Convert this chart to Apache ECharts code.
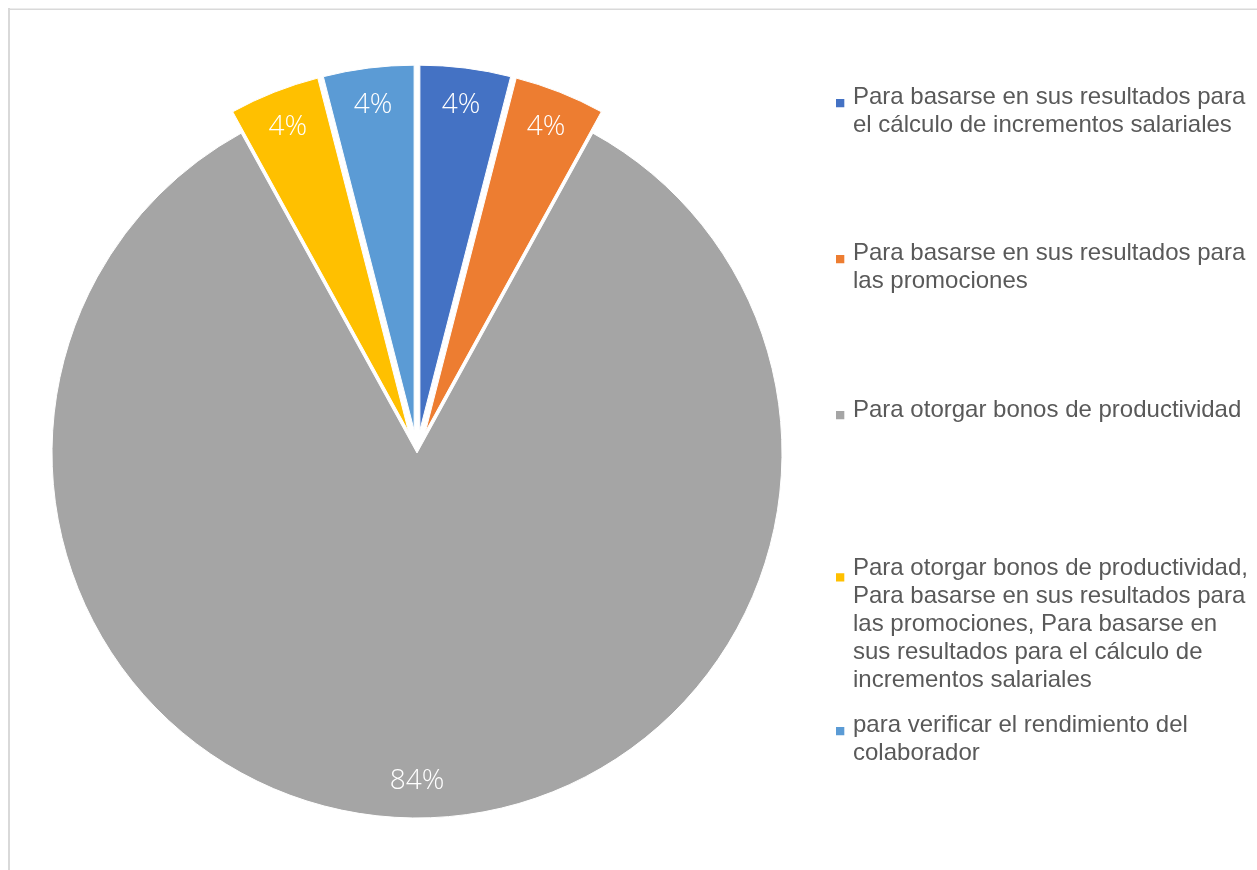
<!DOCTYPE html>
<html>
<head>
<meta charset="utf-8">
<title>Uso de los resultados de la evaluación</title>
<script src="https://cdn.jsdelivr.net/npm/echarts@6/dist/echarts.min.js"></script>
<style>
  html, body { margin: 0; padding: 0; background: #fff; }
  #chart { width: 1257px; height: 870px; }
</style>
</head>
<body>
<div id="chart"></div>
<script>
// Categories (answer options) and their shares in percent
const categories = [
  'Para basarse en sus resultados para el cálculo de incrementos salariales',
  'Para basarse en sus resultados para las promociones',
  'Para otorgar bonos de productividad',
  'Para otorgar bonos de productividad, Para basarse en sus resultados para las promociones, Para basarse en sus resultados para el cálculo de incrementos salariales',
  'para verificar el rendimiento del colaborador'
];
const values = [4, 4, 84, 4, 4];

// Legend text, broken into the lines shown beside each swatch
const legendLines = [
  ['Para basarse en sus resultados para', 'el cálculo de incrementos salariales'],
  ['Para basarse en sus resultados para', 'las promociones'],
  ['Para otorgar bonos de productividad'],
  ['Para otorgar bonos de productividad,', 'Para basarse en sus resultados para',
   'las promociones, Para basarse en', 'sus resultados para el cálculo de',
   'incrementos salariales'],
  ['para verificar el rendimiento del', 'colaborador']
];

// Slices pulled out from the centre
const explodedSlices = [true, true, false, true, true];

const colors = ['#4472C4', '#ED7D31', '#A5A5A5', '#FFC000', '#5B9BD5'];
const legendTops = [83, 239, 396, 554, 711];
const LINE_H = 28;

const chart = echarts.init(document.getElementById('chart'), null, { renderer: 'canvas' });

const pieCenter = [417, 453];
const pieRadius = 365;

function sliceData(styleFn) {
  return categories.map((name, i) => ({
    name: name,
    value: values[i],
    selected: explodedSlices[i],
    itemStyle: styleFn(i)
  }));
}

// Legend swatch: a small square near the first text line, inside a box as tall as the text block
function swatchPath(lines) {
  const h = lines * LINE_H;
  return 'path://M0 0L13 0M0 15h9v9h-9zM0 ' + h + 'L13 ' + h;
}

const legends = categories.map((name, i) => ({
  orient: 'vertical',
  left: 836,
  top: legendTops[i],
  padding: 0,
  itemWidth: 12,
  itemHeight: legendLines[i].length * LINE_H,
  icon: swatchPath(legendLines[i].length),
  itemStyle: { color: colors[i], borderColor: colors[i], borderWidth: 0 },
  selectedMode: false,
  data: [name],
  formatter: () => legendLines[i].join('\n'),
  textStyle: {
    fontFamily: '"Liberation Sans", Arial, sans-serif',
    fontSize: 24,
    lineHeight: LINE_H,
    color: '#595959'
  }
}));

const option = {
  backgroundColor: '#ffffff',
  animation: false,
  color: colors,
  legend: legends,
  graphic: [
    // chart-area frame (top and left edges)
    { type: 'rect', shape: { x: 8, y: 8.5, width: 1249, height: 1.5 }, style: { fill: '#d9d9d9' }, silent: true },
    { type: 'rect', shape: { x: 8, y: 8, width: 2, height: 862 }, style: { fill: '#d9d9d9' }, silent: true }
  ],
  series: [
    {
      type: 'pie',
      center: pieCenter,
      radius: pieRadius,
      startAngle: 90,
      clockwise: true,
      selectedMode: 'multiple',
      selectedOffset: 23,
      label: { show: false },
      labelLine: { show: false },
      emphasis: { disabled: true },
      data: sliceData(i => ({ color: colors[i], borderColor: '#ffffff', borderWidth: 1 }))
    },
    {
      // percentage labels placed near the outer rim
      type: 'pie',
      center: pieCenter,
      radius: [pieRadius * 0.78, pieRadius],
      startAngle: 90,
      clockwise: true,
      selectedMode: 'multiple',
      selectedOffset: 23,
      silent: true,
      labelLine: { show: false },
      emphasis: { disabled: true },
      label: {
        show: true,
        position: 'inside',
        formatter: '{c}%',
        color: '#ffffff',
        fontFamily: '"Open Sans", "Noto Sans", sans-serif',
        fontWeight: 300,
        fontSize: 28
      },
      data: sliceData(() => ({ color: 'rgba(0,0,0,0)', borderWidth: 0 }))
    }
  ]
};

chart.setOption(option);
</script>
</body>
</html>
